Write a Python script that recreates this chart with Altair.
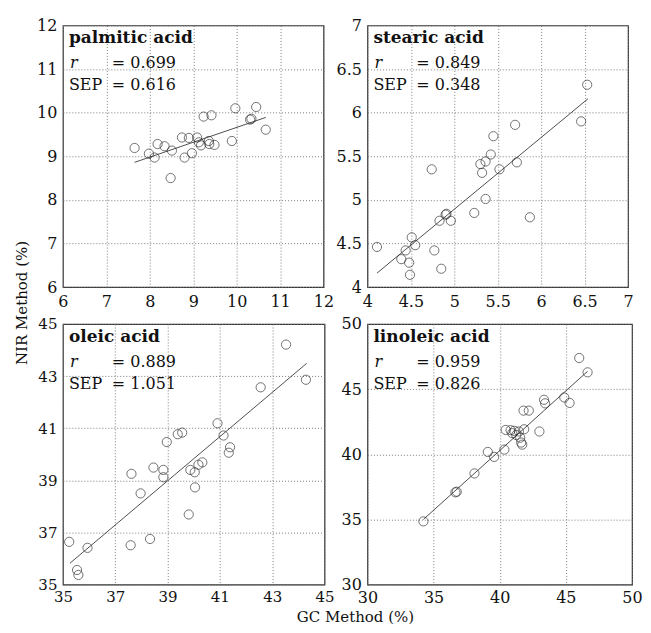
import altair as alt
import pandas as pd

FONT = "DejaVu Serif"

# ---- data ----
acid_names = ["palmitic acid", "stearic acid", "oleic acid", "linoleic acid"]
r_values = ["0.699", "0.849", "0.889", "0.959"]
sep_values = ["0.616", "0.348", "1.051", "0.826"]
x_title = "GC Method (%)"
y_title = "NIR Method (%)"

palmitic_gc = [7.65, 7.98, 8.11, 8.18, 8.34, 8.51, 8.48, 8.74, 8.80, 8.90, 8.97, 9.09, 9.13,
               9.18, 9.24, 9.42, 9.36, 9.37, 9.49, 9.89, 9.97, 10.31, 10.34, 10.45, 10.67]
palmitic_nir = [9.19, 9.06, 8.97, 9.28, 9.23, 9.13, 8.50, 9.43, 8.97, 9.42, 9.07, 9.43, 9.32,
                9.25, 9.91, 9.94, 9.35, 9.28, 9.26, 9.35, 10.10, 9.84, 9.86, 10.13, 9.61]
palmitic_fit_gc = [7.65, 10.67]
palmitic_fit_nir = [8.86, 9.89]

stearic_gc = [4.11, 4.39, 4.44, 4.48, 4.49, 4.51, 4.55, 4.74, 4.77, 4.83, 4.85, 4.91, 4.90, 4.96,
              5.23, 5.30, 5.32, 5.36, 5.36, 5.42, 5.45, 5.52, 5.70, 5.72, 5.87, 6.46, 6.53]
stearic_nir = [4.46, 4.32, 4.42, 4.28, 4.14, 4.57, 4.48, 5.35, 4.42, 4.76, 4.21, 4.84, 4.83, 4.76,
               4.85, 5.41, 5.31, 5.44, 5.01, 5.52, 5.73, 5.35, 5.86, 5.43, 4.80, 5.90, 6.32]
stearic_fit_gc = [4.11, 6.54]
stearic_fit_nir = [4.16, 6.16]

oleic_gc = [35.24, 35.54, 35.59, 35.94, 37.59, 37.62, 37.97, 38.33, 38.46, 38.84, 38.84, 38.97,
            39.39, 39.56, 39.81, 39.87, 40.04, 40.05, 40.18, 40.33, 40.91, 41.14, 41.34, 41.39,
            42.56, 43.53, 44.29]
oleic_nir = [36.64, 35.56, 35.37, 36.41, 36.51, 39.25, 38.50, 36.75, 39.49, 39.40, 39.12, 40.47,
             40.77, 40.83, 37.69, 39.40, 39.31, 38.73, 39.60, 39.69, 41.19, 40.72, 40.06, 40.27,
             42.57, 44.21, 42.86]
oleic_fit_gc = [35.27, 44.32]
oleic_fit_nir = [35.82, 43.49]

linoleic_gc = [34.23, 36.65, 36.75, 38.09, 39.10, 39.58, 40.35, 40.45, 40.82, 40.95, 41.10, 41.25,
               41.45, 41.55, 41.62, 41.70, 41.85, 41.80, 42.20, 43.00, 43.35, 43.43, 44.88, 45.28,
               46.01, 46.64]
linoleic_nir = [34.85, 37.08, 37.13, 38.53, 40.18, 39.80, 40.36, 41.87, 41.85, 41.62, 41.80, 41.48,
                41.75, 41.27, 40.90, 40.74, 41.92, 43.35, 43.35, 41.75, 44.18, 43.91, 44.36, 43.94,
                47.39, 46.29]
linoleic_fit_gc = [34.23, 46.64]
linoleic_fit_nir = [35.00, 46.37]

palmitic_domain = [6, 12]
palmitic_grid = [6, 7, 8, 9, 10, 11, 12]
stearic_domain = [4, 7]
stearic_grid = [4, 4.5, 5, 5.5, 6, 6.5, 7]
oleic_domain = [35, 45]
oleic_grid = [35, 36, 37, 38, 39, 40, 41, 42, 43, 44, 45]
oleic_labels = [35, 37, 39, 41, 43, 45]
linoleic_domain = [30, 50]
linoleic_grid = [30, 35, 40, 45, 50]


def make_axis(grid_vals, label_vals, size, pad):
    lv = ",".join(str(v) for v in label_vals)
    return alt.Axis(
        values=grid_vals,
        labelExpr=f"indexof([{lv}], datum.value) >= 0 ? format(datum.value, '~g') : ''",
        grid=True, gridDash=[1, 2], gridColor="#6f6f6f", gridWidth=0.9,
        ticks=False, domain=False,
        labelFont=FONT, labelFontSize=size, labelColor="#111",
        labelPadding=pad,
        labelFlush=False, labelOverlap=False, title=None,
    )


def text_layer(txt, x, y, size, weight="normal", style="normal", align="left", angle=0):
    return alt.Chart(pd.DataFrame({"t": [txt]})).mark_text(
        align=align, baseline="middle", font=FONT, fontSize=size,
        fontWeight=weight, fontStyle=style, color="#111", angle=angle,
    ).encode(x=alt.value(x), y=alt.value(y), text="t:N")


def panel(i, gc, nir, fit_gc, fit_nir, domain, grid_vals, label_vals, w, h, lsize, xpad,
          extra=()):
    pts = pd.DataFrame({"gc": gc, "nir": nir})
    fit = pd.DataFrame({"gc": fit_gc, "nir": fit_nir})
    xs = alt.Scale(domain=domain, nice=False, zero=False)
    ys = alt.Scale(domain=domain, nice=False, zero=False)
    base_pts = alt.Chart(pts).mark_point(
        shape="circle", filled=False, size=85, color="#222", strokeWidth=0.9
    ).encode(
        x=alt.X("gc:Q", scale=xs, axis=make_axis(grid_vals, label_vals, lsize, xpad)),
        y=alt.Y("nir:Q", scale=ys, axis=make_axis(grid_vals, label_vals, lsize, 6)),
    )
    line = alt.Chart(fit).mark_line(color="#222", strokeWidth=0.8).encode(
        x=alt.X("gc:Q", scale=xs), y=alt.Y("nir:Q", scale=ys)
    )
    layers = [
        base_pts, line,
        text_layer(acid_names[i], 6, 13, 17, weight="bold"),
        text_layer("r", 7, 38, 16, style="italic"),
        text_layer("= " + r_values[i], 49, 38, 16),
        text_layer("SEP", 6, 60, 16),
        text_layer("= " + sep_values[i], 49, 60, 16),
    ] + list(extra)
    return alt.layer(*layers).properties(width=w, height=h)


p1 = panel(0, palmitic_gc, palmitic_nir, palmitic_fit_gc, palmitic_fit_nir,
           palmitic_domain, palmitic_grid, palmitic_grid, 261, 262, 16, 6,
           extra=[text_layer(y_title, -41, 278, 15, align="center", angle=270)])
p2 = panel(1, stearic_gc, stearic_nir, stearic_fit_gc, stearic_fit_nir,
           stearic_domain, stearic_grid, stearic_grid, 261, 262, 16, 6)
p3 = panel(2, oleic_gc, oleic_nir, oleic_fit_gc, oleic_fit_nir,
           oleic_domain, oleic_grid, oleic_labels, 262, 261, 15, 5)
p4 = panel(3, linoleic_gc, linoleic_nir, linoleic_fit_gc, linoleic_fit_nir,
           linoleic_domain, linoleic_grid, linoleic_grid, 265, 261, 16, 5,
           extra=[text_layer(x_title, -12, 293, 15, align="center")])

chart = alt.concat(
    p1, p2, p3, p4, columns=2, spacing={"row": 37, "column": 43}, bounds="flush"
).properties(
    padding={"left": 6, "top": 8, "right": 0, "bottom": 0},
).configure_view(stroke="#333", strokeWidth=1.2)

chart.save("out.html", embed_options={"renderer": "svg", "actions": False})
